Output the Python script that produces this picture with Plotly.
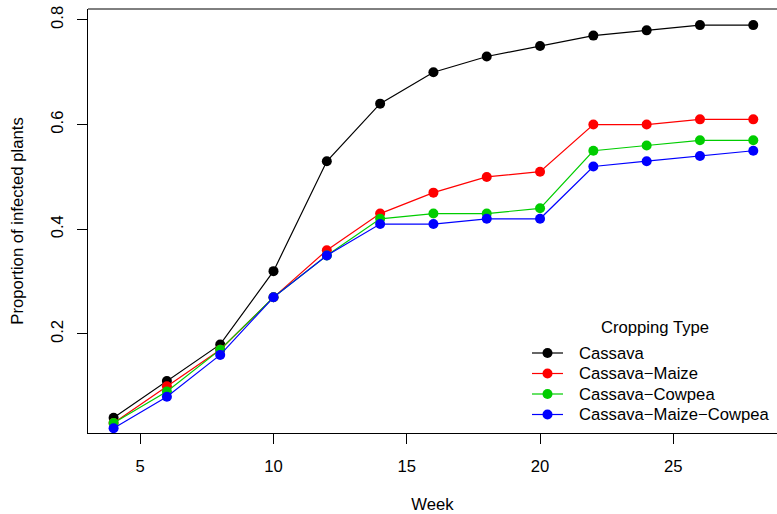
import plotly.graph_objects as go

weeks = [4, 6, 8, 10, 12, 14, 16, 18, 20, 22, 24, 26, 28]
cassava = [0.04, 0.11, 0.18, 0.32, 0.53, 0.64, 0.70, 0.73, 0.75, 0.77, 0.78, 0.79, 0.79]
cassava_maize = [0.03, 0.10, 0.17, 0.27, 0.36, 0.43, 0.47, 0.50, 0.51, 0.60, 0.60, 0.61, 0.61]
cassava_cowpea = [0.03, 0.09, 0.17, 0.27, 0.35, 0.42, 0.43, 0.43, 0.44, 0.55, 0.56, 0.57, 0.57]
cassava_maize_cowpea = [0.02, 0.08, 0.16, 0.27, 0.35, 0.41, 0.41, 0.42, 0.42, 0.52, 0.53, 0.54, 0.55]

series_names = ["Cassava", "Cassava\u2212Maize", "Cassava\u2212Cowpea", "Cassava\u2212Maize\u2212Cowpea"]
series_values = [cassava, cassava_maize, cassava_cowpea, cassava_maize_cowpea]
series_colors = ["#000000", "#FF0000", "#00CD00", "#0000FF"]

x_ticks = [5, 10, 15, 20, 25]
y_ticks = [0.2, 0.4, 0.6, 0.8]
y_ticktext = ["0.2", "0.4", "0.6", "0.8"]

FONT = "Liberation Sans, Arial, Helvetica, sans-serif"
FS = 16.67

# plot area in pixels
L, R, T, B = 88, 777, 9, 433
W, H = R - L, B - T


def px_x(px):
    return (px - L) / W


def px_y(py):
    return (B - py) / H


fig = go.Figure()
for name, vals, col in zip(series_names, series_values, series_colors):
    fig.add_trace(go.Scatter(
        x=weeks, y=vals, name=name, mode="lines+markers",
        line=dict(color=col, width=1.2),
        marker=dict(color=col, size=10),
        showlegend=False,
    ))

shapes = [dict(type="line", xref="paper", yref="paper", x0=0, x1=1, y0=1, y1=1,
               line=dict(color="black", width=1))]
annotations = [dict(text="Cropping Type", xref="paper", yref="paper",
                    x=px_x(655), y=px_y(327), xanchor="center", yanchor="middle",
                    showarrow=False, font=dict(size=FS, family=FONT, color="black"))]

leg_y0, leg_dy = 353, 20.5
for i, (name, col) in enumerate(zip(series_names, series_colors)):
    py = leg_y0 + i * leg_dy
    shapes.append(dict(type="line", xref="paper", yref="paper",
                       x0=px_x(532), x1=px_x(563), y0=px_y(py), y1=px_y(py),
                       line=dict(color=col, width=1.2)))
    shapes.append(dict(type="circle", xref="paper", yref="paper",
                       xsizemode="pixel", ysizemode="pixel",
                       xanchor=px_x(547.5), yanchor=px_y(py),
                       x0=-5, x1=5, y0=-5, y1=5,
                       fillcolor=col, line=dict(color=col, width=0)))
    annotations.append(dict(text=name, xref="paper", yref="paper",
                            x=px_x(577), y=px_y(py), xanchor="left", yanchor="middle",
                            showarrow=False, font=dict(size=FS, family=FONT, color="black")))

fig.update_layout(
    width=777, height=514,
    margin=dict(l=L, r=777 - R, t=T, b=514 - B),
    paper_bgcolor="white", plot_bgcolor="white",
    font=dict(family=FONT, size=FS, color="black"),
    showlegend=False,
    xaxis=dict(
        range=[3.04, 28.89], tickvals=x_ticks, ticks="outside", ticklen=10,
        tickcolor="black", tickwidth=1, showgrid=False, zeroline=False,
        showline=True, linecolor="black", linewidth=1, ticklabelstandoff=8,
        title=dict(text="Week", standoff=25, font=dict(size=FS)),
    ),
    yaxis=dict(
        range=[0.0108, 0.8208], tickvals=y_ticks, ticktext=y_ticktext,
        tickangle=-90, ticks="outside", ticklen=10, tickcolor="black", tickwidth=1,
        showgrid=False, zeroline=False, showline=True, linecolor="black", linewidth=1,
        ticklabelstandoff=7,
        title=dict(text="Proportion of infected plants", standoff=20, font=dict(size=FS)),
    ),
    shapes=shapes,
    annotations=annotations,
)

fig.write_html("out.html")
